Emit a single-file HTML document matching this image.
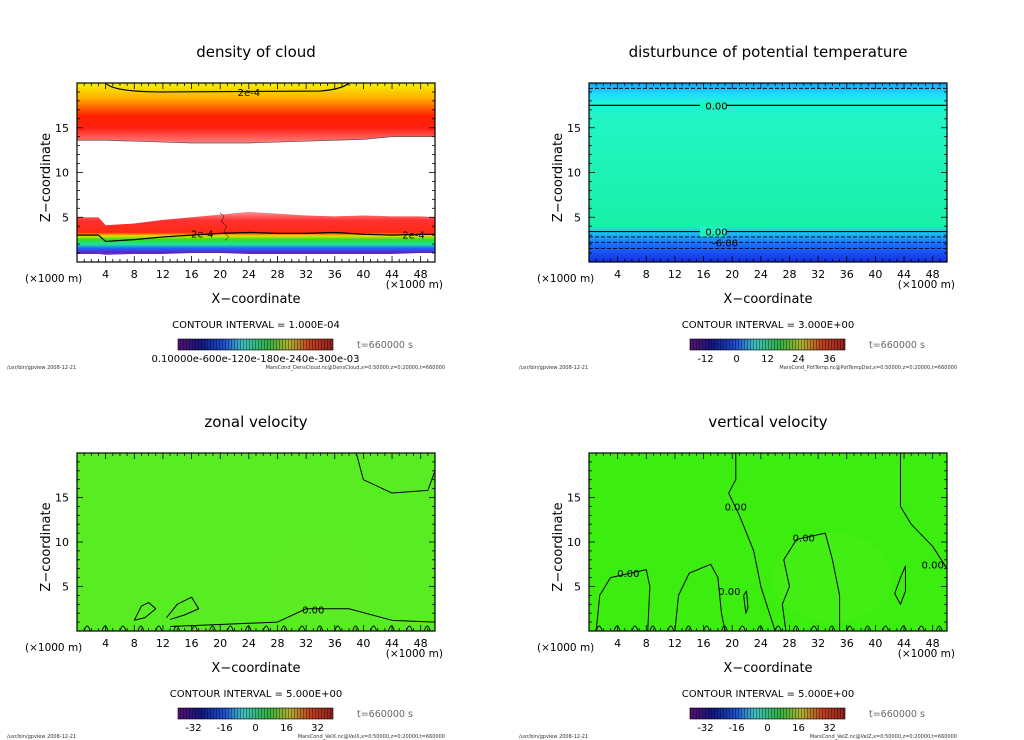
<!DOCTYPE html>
<html><head><meta charset="utf-8">
<style>
html,body{margin:0;padding:0;background:#fff;}
svg{display:block;font-family:"DejaVu Sans","Liberation Sans",sans-serif;}
</style></head>
<body>
<svg id="fig" width="1024" height="740" viewBox="0 0 1024 740">
<defs>
<linearGradient id="cloudUp" x1="0" y1="0" x2="0" y2="1">
<stop offset="0" stop-color="#f4f400"/><stop offset="0.25" stop-color="#ffb000"/>
<stop offset="0.55" stop-color="#ff2000"/><stop offset="0.75" stop-color="#ff2010"/>
<stop offset="1" stop-color="#ff8080"/></linearGradient>
<linearGradient id="cloudLow" x1="0" y1="0" x2="0" y2="1">
<stop offset="0" stop-color="#ff9090"/><stop offset="0.2" stop-color="#ff3030"/>
<stop offset="0.48" stop-color="#ff2a10"/><stop offset="0.56" stop-color="#e8e000"/>
<stop offset="0.64" stop-color="#30e020"/><stop offset="0.76" stop-color="#20e0a0"/>
<stop offset="0.85" stop-color="#2060ff"/><stop offset="0.95" stop-color="#6020c0"/>
<stop offset="1" stop-color="#8040d0"/></linearGradient>
<linearGradient id="ptemp" x1="0" y1="0" x2="0" y2="1">
<stop offset="0" stop-color="#10a8ff"/><stop offset="0.06" stop-color="#20d8ff"/>
<stop offset="0.1" stop-color="#20f0e0"/><stop offset="0.2" stop-color="#22f5c4"/>
<stop offset="0.8" stop-color="#18f0a8"/><stop offset="0.83" stop-color="#20c8f0"/>
<stop offset="0.9" stop-color="#1870ff"/><stop offset="1" stop-color="#1830e0"/></linearGradient>
<linearGradient id="cbar" x1="0" y1="0" x2="1" y2="0">
<stop offset="0" stop-color="#5a1070"/><stop offset="0.15" stop-color="#101880"/>
<stop offset="0.3" stop-color="#2050d0"/><stop offset="0.42" stop-color="#40c0c0"/>
<stop offset="0.58" stop-color="#30b040"/><stop offset="0.72" stop-color="#b0b030"/>
<stop offset="0.85" stop-color="#c04020"/><stop offset="1" stop-color="#902020"/></linearGradient>
<pattern id="stripes" width="3" height="10" patternUnits="userSpaceOnUse"><rect width="1" height="10" fill="#000" opacity="0.35"/></pattern>
</defs>
<g id="root"></g>
</svg>
<script>
// ---- data ----
const xTicks = [4,8,12,16,20,24,28,32,36,40,44,48];
const yTicks = [5,10,15];
const titles = ["density of cloud","disturbunce of potential temperature","zonal velocity","vertical velocity"];
const intervals = ["CONTOUR INTERVAL = 1.000E-04","CONTOUR INTERVAL = 3.000E+00","CONTOUR INTERVAL = 5.000E+00","CONTOUR INTERVAL = 5.000E+00"];
const cbarLabels = [["0.10000e-600e-120e-180e-240e-300e-03"],["-12","0","12","24","36"],["-32","-16","0","16","32"],["-32","-16","0","16","32"]];
const cbarVals = [[],[-12,0,12,24,36],[-32,-16,0,16,32],[-32,-16,0,16,32]];
const footFiles = ["MarsCond_DensCloud.nc@DensCloud,x=0:50000,z=0:20000,t=660000","MarsCond_PotTemp.nc@PotTempDist,x=0:50000,z=0:20000,t=660000","MarsCond_VelX.nc@VelX,x=0:50000,z=0:20000,t=660000","MarsCond_VelZ.nc@VelZ,x=0:50000,z=0:20000,t=660000"];
const profX = [0,3,4,8,12,16,20,24,28,32,36,40,44,48,50];
const upperBase = [13.6,13.6,13.6,13.5,13.4,13.3,13.3,13.3,13.4,13.5,13.6,13.7,14.0,14.0,14.0];
const lowerTop = [5.0,5.0,4.1,4.3,4.7,5.0,5.3,5.6,5.4,5.2,5.1,5.2,5.1,5.1,5.0];
const contour2e4 = [3.0,3.0,2.3,2.5,2.8,3.0,3.2,3.3,3.2,3.2,3.3,3.1,3.0,3.1,3.1];
const lowerBase = [0.9,0.9,0.8,0.9,0.9,1.0,1.0,0.9,0.9,0.9,0.9,0.9,0.9,1.0,1.0];
const ptSolid = [17.5,3.4];
const ptDash = [19.4,2.8,2.2,1.5];
const wLines = [
 [[1,0],[1.5,4],[3,6],[8,6.9],[8.5,5],[8.2,0]],
 [[12,0],[12.5,4],[14,6.5],[17,7.5],[18,6],[18.5,2],[19,0]],
 [[20.5,20],[20.5,17],[19.5,15.5],[21,13],[23,9],[24,5],[26,0]],
 [[27.5,0],[27,3],[28,5],[27.2,8],[29,10.3],[33,11],[34,8],[35,4],[35,0]],
 [[43.5,20],[43.5,14],[45,12],[48,9.5],[50,7]],
 [[42.7,4.2],[43.5,6],[44.2,7.3],[44.2,4.5],[43.5,3],[42.7,4.2]],
 [[21.6,4],[21.9,2],[22.2,2.6],[22,4.5],[21.6,4]]
];
const uLines = [
 [[12.5,1.5],[14,3],[16,3.8],[17,2.5],[15,1.8],[13,1.3]],
 [[8,1.2],[9,2.8],[10,3.2],[11,2.5],[9.5,1.5],[8,1.2]],
 [[13,0.5],[22,0.8],[28,1],[32,2.5],[38,2.5],[44,1.2],[50,1.0]],
 [[39,20],[40,17],[44,15.5],[49,15.8],[50,18]]
];

const root = document.getElementById('root');
const NS = 'http://www.w3.org/2000/svg';
function el(tag, attrs, parent, text){
  const e = document.createElementNS(NS, tag);
  for (const k in attrs) e.setAttribute(k, attrs[k]);
  if (text !== undefined) e.textContent = text;
  (parent||root).appendChild(e);
  return e;
}
const panels = [
 {x0:77,y0:83,x1:435,y1:262},
 {x0:589,y0:83,x1:947,y1:262},
 {x0:77,y0:453,x1:435,y1:631},
 {x0:589,y0:453,x1:947,y1:631}
];
panels.forEach((p,i)=>{
  const g = el('g',{});
  
  
  const sx = v => p.x0 + v/50*(p.x1-p.x0);
  const sy = v => p.y1 - v/20*(p.y1-p.y0);
  const cx = (p.x0+p.x1)/2;
  const t = el('text',{x:cx,y:p.y0-26,'text-anchor':'middle','font-size':15},g,titles[i]);
  
  
  const W=p.x1-p.x0,H=p.y1-p.y0;
  if(i===0){
    const top = 'M'+sx(0)+','+sy(20)+' L'+sx(50)+','+sy(20)+' '+profX.slice().reverse().map((x,k)=>'L'+sx(x)+','+sy(upperBase[profX.length-1-k])).join(' ')+'Z';
    el('path',{d:top,fill:'url(#cloudUp)'},g);
    const low = profX.map((x,k)=>(k?'L':'M')+sx(x)+','+sy(lowerTop[k])).join(' ')+' '+profX.slice().reverse().map((x,k)=>'L'+sx(x)+','+sy(lowerBase[profX.length-1-k])).join(' ')+'Z';
    el('path',{d:low,fill:'url(#cloudLow)'},g);
    el('path',{d:profX.map((x,k)=>(k?'L':'M')+sx(x)+','+sy(contour2e4[k])).join(' '),fill:'none',stroke:'#000','stroke-width':1.2,'stroke-linejoin':'round'},g);
    el('path',{d:profX.map((x,k)=>(k?'L':'M')+sx(x)+','+sy(upperBase[k])).join(' '),fill:'none',stroke:'#555','stroke-width':0.7},g);
    el('path',{d:'M'+sx(4)+','+sy(20)+' Q'+sx(5)+','+sy(19)+' '+sx(12)+','+sy(19)+' L'+sx(34)+','+sy(19.1)+' Q'+sx(37)+','+sy(19.3)+' '+sx(38)+','+sy(20),fill:'none',stroke:'#000','stroke-width':1.2},g);
    el('text',{x:sx(24),y:sy(19)+4,'font-size':10,'text-anchor':'middle'},g,'2e-4');
    el('text',{x:sx(17.5),y:sy(3.2)+4,'font-size':10,'text-anchor':'middle'},g,'2e-4');
    el('text',{x:sx(47),y:sy(3.1)+4,'font-size':10,'text-anchor':'middle'},g,'2e-4');
    el('path',{d:'M'+sx(20)+','+sy(5.5)+' l4,4 l-3,5 l5,4 l-2,6 l4,5 l-3,4',fill:'none',stroke:'#000','stroke-width':0.8,'stroke-dasharray':'1 1'},g);
  } else if(i===1){
    el('rect',{x:p.x0,y:p.y0,width:W,height:H,fill:'url(#ptemp)'},g);
    ptSolid.forEach(z=>el('line',{x1:p.x0,x2:p.x1,y1:sy(z),y2:sy(z),stroke:'#000','stroke-width':1.2},g));
    ptDash.forEach(z=>el('line',{x1:p.x0,x2:p.x1,y1:sy(z),y2:sy(z),stroke:'#000','stroke-width':0.9,'stroke-dasharray':'4 2'},g));
    [[ptSolid[0],'0.00'],[ptSolid[1],'0.00']].forEach(a=>{
      el('rect',{x:sx(15.5),y:sy(a[0])-5,width:26,height:10,fill:'#22f0c0'},g);
      el('text',{x:sx(17.8),y:sy(a[0])+4,'font-size':10,'text-anchor':'middle'},g,a[1]);});
    el('text',{x:sx(19),y:sy(2.2)+4,'font-size':10,'text-anchor':'middle'},g,'-6.00');
  } else {
    el('rect',{x:p.x0,y:p.y0,width:W,height:H,fill:i===2?'#58ec22':'#3cee10'},g);
    el('ellipse',{cx:sx(34),cy:sy(6),rx:60,ry:45,fill:'#70f030',opacity:0.12},g);
    const lines = i===2?uLines:wLines;
    lines.forEach(L=>el('path',{d:L.map((q,k)=>(k?'L':'M')+sx(q[0])+','+sy(q[1])).join(' '),fill:'none',stroke:'#000','stroke-width':1,'stroke-linejoin':'round'},g));
    for(let x=1;x<50;x+=2.5) el('path',{d:'M'+sx(x)+','+sy(0)+' q3,-10 6,0',fill:'none',stroke:'#000','stroke-width':0.9},g);
    const labs = i===2?[[33,2.4,'0.00']]:[[5.5,6.5,'0.00'],[20.5,14,'0.00'],[19.6,4.5,'0.00'],[30,10.5,'0.00'],[48,7.5,'0.00']];
    labs.forEach(a=>el('text',{x:sx(a[0]),y:sy(a[1])+4,'font-size':10,'text-anchor':'middle'},g,a[2]));
  }
  el('rect',{x:p.x0,y:p.y0,width:W,height:H,fill:'none',stroke:'#000','stroke-width':1.2},g);
  for(let v=1;v<50;v++){
    const big = v%4===0, L = big?6:3;
    el('line',{x1:sx(v),x2:sx(v),y1:p.y1,y2:p.y1-L,stroke:'#000','stroke-width':0.8},g);
    el('line',{x1:sx(v),x2:sx(v),y1:p.y0,y2:p.y0+L,stroke:'#000','stroke-width':0.8},g);
  }
  for(let v=1;v<20;v++){
    const big=v%5===0, L=big?6:3;
    el('line',{x1:p.x0,x2:p.x0+L,y1:sy(v),y2:sy(v),stroke:'#000','stroke-width':0.8},g);
    el('line',{x1:p.x1,x2:p.x1-L,y1:sy(v),y2:sy(v),stroke:'#000','stroke-width':0.8},g);
  }
  xTicks.forEach(v=>{const t=el('text',{x:sx(v),y:p.y1+16,'font-size':11,'text-anchor':'middle'},g,String(v));
    });
  yTicks.forEach(v=>{const t=el('text',{x:p.x0-8,y:sy(v)+4,'font-size':11,'text-anchor':'end'},g,String(v));
    });
  el('text',{x:p.x0-52,y:p.y1+20,'font-size':10.5},g,'(\u00d71000 m)');
  el('text',{x:p.x1+8,y:p.y1+26,'font-size':10.5,'text-anchor':'end'},g,'(\u00d71000 m)');
  const xt=el('text',{x:cx,y:p.y1+41,'font-size':13,'text-anchor':'middle'},g,'X\u2212coordinate');
  
  const yt=el('text',{x:0,y:0,'font-size':13,'text-anchor':'middle',transform:'translate('+(p.x0-27)+','+((p.y0+p.y1)/2+5)+') rotate(-90)'},g,'Z\u2212coordinate');
  
  const by = p.y1+66;
  el('text',{x:cx,y:by,'font-size':10,'text-anchor':'middle'},g,intervals[i]);
  const cb0=p.x0+101, cb1=p.x0+256;
  const cb=el('rect',{x:cb0,y:by+11,width:cb1-cb0,height:11,fill:'url(#cbar)',stroke:'#000','stroke-width':0.6},g);
  
  el('rect',{x:cb0,y:by+11,width:cb1-cb0,height:11,fill:'url(#stripes)'},g);
  el('text',{x:p.x0+280,y:by+20,'font-size':9.5,fill:'#666'},g,'t=660000  s');
  if(i===0){
    el('text',{x:(cb0+cb1)/2,y:by+34,'font-size':10,'text-anchor':'middle'},g,cbarLabels[0][0]);
  } else {
    const vals=cbarVals[i], lo=i===1?-18:-40, hi=i===1?42:40;
    vals.forEach((v,k)=>el('text',{x:cb0+(v-lo)/(hi-lo)*(cb1-cb0),y:by+34,'font-size':10,'text-anchor':'middle'},g,cbarLabels[i][k]));
  }
  el('text',{x:p.x0-70,y:by+41,'font-size':5,fill:'#333'},g,'/usr/bin/gpview    2008-12-21');
  el('text',{x:p.x1+10,y:by+41,'font-size':5,fill:'#333','text-anchor':'end'},g,footFiles[i]);
});
</script>
</body></html>
